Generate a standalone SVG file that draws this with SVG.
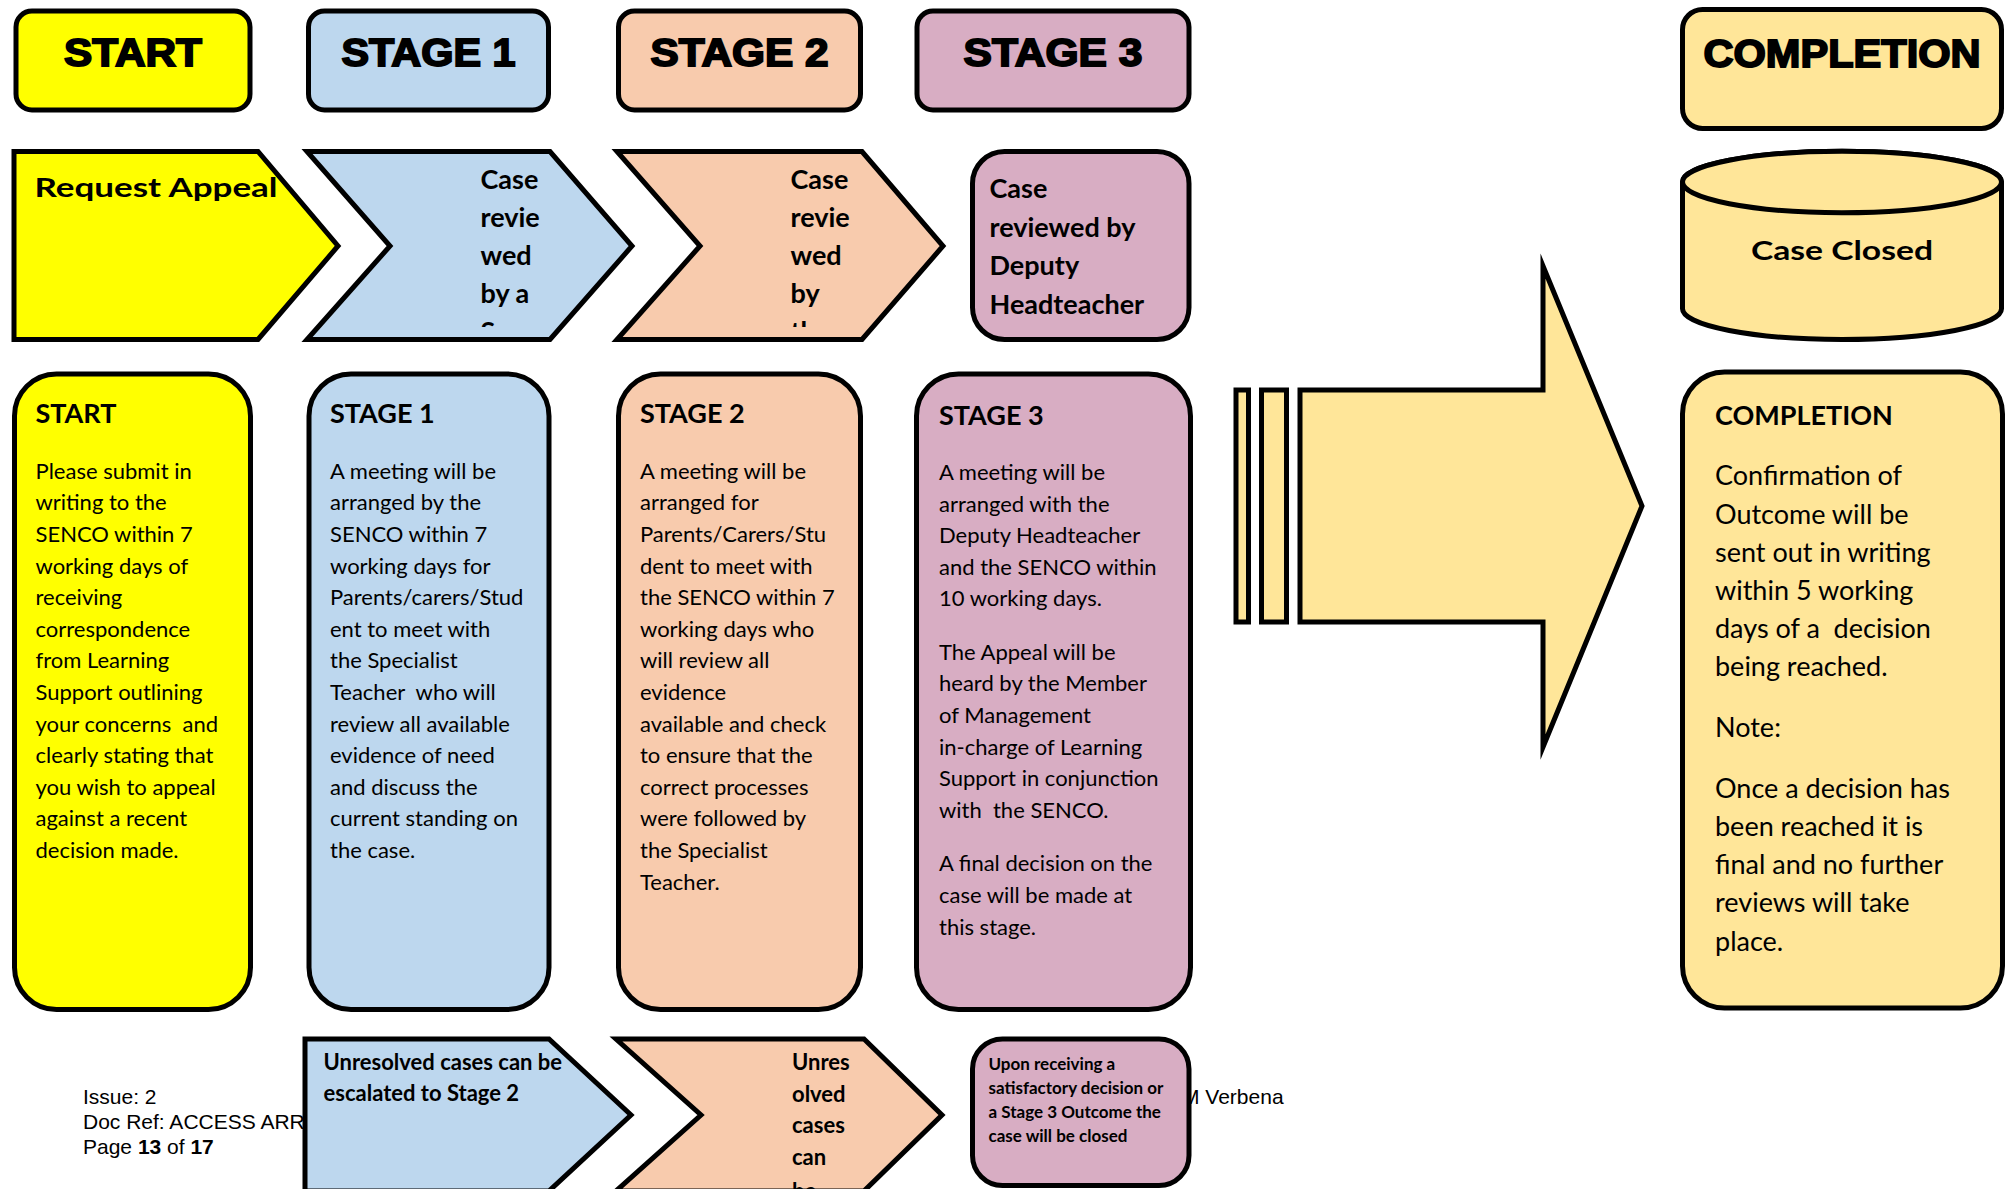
<svg xmlns="http://www.w3.org/2000/svg" width="2009" height="1189" viewBox="0 0 2009 1189">
<style>
.s{stroke:#000;stroke-width:5;stroke-linejoin:miter;stroke-miterlimit:10}
.y{fill:#FFFF00}.b{fill:#BDD7EE}.p{fill:#F8CBAD}.m{fill:#D8ADC3}.c{fill:#FFE699}
.h{font-family:"Liberation Sans",Arial,sans-serif;font-weight:bold;font-size:38px;stroke:#000;stroke-width:1.8;text-anchor:middle;fill:#000}
.t{font-family:Lato,"Liberation Sans",sans-serif;font-size:22px;fill:#000}
.tc{font-family:Lato,"Liberation Sans",sans-serif;font-size:27px;fill:#000}
.hb{font-family:Lato,"Liberation Sans",sans-serif;font-size:27px;font-weight:bold;fill:#000}
.cb{font-family:Lato,"Liberation Sans",sans-serif;font-size:27px;font-weight:bold;fill:#000}
.ub{font-family:Lato,"Liberation Sans",sans-serif;font-size:22px;font-weight:bold;fill:#000}
.sb{font-family:Lato,"Liberation Sans",sans-serif;font-size:17px;font-weight:bold;fill:#000}
.f{font-family:"Liberation Sans",Arial,sans-serif;font-size:21px;fill:#000}
</style>
<defs>
<clipPath id="clipTop"><rect x="0" y="0" width="2009" height="327"/></clipPath>
</defs>
<rect x="0" y="0" width="2009" height="1189" fill="#fff"/>

<!-- footer text (behind shapes) -->
<g id="footer">
<text class="f" x="83" y="1104">Issue: 2</text>
<text class="f" x="83" y="1129">Doc Ref: ACCESS ARR</text>
<text class="f" x="83" y="1154">Page <tspan font-weight="bold">13</tspan> of <tspan font-weight="bold">17</tspan></text>
<text class="f" x="1182" y="1104">M Verbena</text>
</g>

<!-- Row 1 headers -->
<g id="hdr-start"><rect class="s y" x="16" y="11" width="234" height="99" rx="16"/><text class="h" x="133" y="66" textLength="138" lengthAdjust="spacingAndGlyphs">START</text></g>
<g id="hdr-stage1"><rect class="s b" x="308.5" y="11" width="240" height="99" rx="16"/><text class="h" x="428.5" y="66" textLength="174" lengthAdjust="spacingAndGlyphs">STAGE 1</text></g>
<g id="hdr-stage2"><rect class="s p" x="618.5" y="11" width="242" height="99" rx="16"/><text class="h" x="739.5" y="66" textLength="178" lengthAdjust="spacingAndGlyphs">STAGE 2</text></g>
<g id="hdr-stage3"><rect class="s m" x="917" y="11" width="272" height="99" rx="16"/><text class="h" x="1053" y="66" textLength="179" lengthAdjust="spacingAndGlyphs">STAGE 3</text></g>
<g id="hdr-completion"><rect class="s c" x="1682.5" y="9.5" width="319" height="119" rx="20"/><text class="h" x="1842" y="67" textLength="277" lengthAdjust="spacingAndGlyphs">COMPLETION</text></g>

<!-- Row 2 -->
<g id="request-appeal">
<polygon class="s y" points="14,151.5 258,151.5 338,246 258,339.5 14,339.5"/>
<text class="cb" x="34.5" y="197" font-size="36" textLength="243" lengthAdjust="spacingAndGlyphs">Request Appeal</text>
</g>
<g id="review-stage1">
<polygon class="s b" points="307,151.5 550,151.5 632,246 550,339.5 307,339.5 390,246"/>
<g clip-path="url(#clipTop)">
<text class="cb" x="480.5" y="189">Case</text>
<text class="cb" x="480.5" y="227">revie</text>
<text class="cb" x="480.5" y="265">wed</text>
<text class="cb" x="480.5" y="303">by a</text>
<text class="cb" x="480.5" y="341">Spec</text>
</g>
</g>
<g id="review-stage2">
<polygon class="s p" points="617,151.5 862,151.5 943,246 862,339.5 617,339.5 700,246"/>
<g clip-path="url(#clipTop)">
<text class="cb" x="790.5" y="189">Case</text>
<text class="cb" x="790.5" y="227">revie</text>
<text class="cb" x="790.5" y="265">wed</text>
<text class="cb" x="790.5" y="303">by</text>
<text class="cb" x="790.5" y="341">the</text>
</g>
</g>
<g id="review-stage3">
<rect class="s m" x="972.5" y="151.5" width="216.5" height="188" rx="32"/>
<text class="cb" x="989.5" y="198">Case</text>
<text class="cb" x="989.5" y="237">reviewed by</text>
<text class="cb" x="989.5" y="275">Deputy</text>
<text class="cb" x="989.5" y="314">Headteacher</text>
</g>
<g id="case-closed">
<path class="s c" d="M1682.5,182 A159.5,30.7 0 0 1 2001.5,182 L2001.5,308.8 A159.5,30.7 0 0 1 1682.5,308.8 Z"/>
<ellipse class="s c" cx="1842" cy="182" rx="159.5" ry="30.7"/>
<text class="cb" x="1842" y="260" font-size="36" text-anchor="middle" textLength="182" lengthAdjust="spacingAndGlyphs">Case Closed</text>
</g>

<!-- Row 3 -->
<g id="box-start">
<rect class="s y" x="14.5" y="374" width="236" height="635.5" rx="42"/>
<text class="hb" x="35.5" y="423">START</text>
<text class="t">
<tspan x="35.5" y="478.7">Please submit in</tspan>
<tspan x="35.5" y="510.3">writing to the</tspan>
<tspan x="35.5" y="541.9">SENCO within 7</tspan>
<tspan x="35.5" y="573.5">working days of</tspan>
<tspan x="35.5" y="605.1">receiving</tspan>
<tspan x="35.5" y="636.7">correspondence</tspan>
<tspan x="35.5" y="668.3">from Learning</tspan>
<tspan x="35.5" y="699.9">Support outlining</tspan>
<tspan x="35.5" y="731.5">your concerns&#160; and</tspan>
<tspan x="35.5" y="763.1">clearly stating that</tspan>
<tspan x="35.5" y="794.7">you wish to appeal</tspan>
<tspan x="35.5" y="826.3">against a recent</tspan>
<tspan x="35.5" y="857.9">decision made.</tspan>
</text>
</g>
<g id="box-stage1">
<rect class="s b" x="309" y="374" width="240" height="635.5" rx="42"/>
<text class="hb" x="330" y="423">STAGE 1</text>
<text class="t">
<tspan x="330" y="478.7">A meeting will be</tspan>
<tspan x="330" y="510.3">arranged by the</tspan>
<tspan x="330" y="541.9">SENCO within 7</tspan>
<tspan x="330" y="573.5">working days for</tspan>
<tspan x="330" y="605.1">Parents/carers/Stud</tspan>
<tspan x="330" y="636.7">ent to meet with</tspan>
<tspan x="330" y="668.3">the Specialist</tspan>
<tspan x="330" y="699.9">Teacher&#160; who will</tspan>
<tspan x="330" y="731.5">review all available</tspan>
<tspan x="330" y="763.1">evidence of need</tspan>
<tspan x="330" y="794.7">and discuss the</tspan>
<tspan x="330" y="826.3">current standing on</tspan>
<tspan x="330" y="857.9">the case.</tspan>
</text>
</g>
<g id="box-stage2">
<rect class="s p" x="618.5" y="374" width="242" height="635.5" rx="42"/>
<text class="hb" x="640" y="423">STAGE 2</text>
<text class="t">
<tspan x="640" y="478.7">A meeting will be</tspan>
<tspan x="640" y="510.3">arranged for</tspan>
<tspan x="640" y="541.9">Parents/Carers/Stu</tspan>
<tspan x="640" y="573.5">dent to meet with</tspan>
<tspan x="640" y="605.1">the SENCO within 7</tspan>
<tspan x="640" y="636.7">working days who</tspan>
<tspan x="640" y="668.3">will review all</tspan>
<tspan x="640" y="699.9">evidence</tspan>
<tspan x="640" y="731.5">available and check</tspan>
<tspan x="640" y="763.1">to ensure that the</tspan>
<tspan x="640" y="794.7">correct processes</tspan>
<tspan x="640" y="826.3">were followed by</tspan>
<tspan x="640" y="857.9">the Specialist</tspan>
<tspan x="640" y="889.5">Teacher.</tspan>
</text>
</g>
<g id="box-stage3">
<rect class="s m" x="916.5" y="374" width="274" height="635.5" rx="42"/>
<text class="hb" x="939" y="425">STAGE 3</text>
<text class="t">
<tspan x="939" y="480">A meeting will be</tspan>
<tspan x="939" y="511.6">arranged with the</tspan>
<tspan x="939" y="543.2">Deputy Headteacher</tspan>
<tspan x="939" y="574.8">and the SENCO within</tspan>
<tspan x="939" y="606.4">10 working days.</tspan>
<tspan x="939" y="659.7">The Appeal will be</tspan>
<tspan x="939" y="691.3">heard by the Member</tspan>
<tspan x="939" y="722.9">of Management</tspan>
<tspan x="939" y="754.5">in-charge of Learning</tspan>
<tspan x="939" y="786.1">Support in conjunction</tspan>
<tspan x="939" y="817.7">with&#160; the SENCO.</tspan>
<tspan x="939" y="871.4">A final decision on the</tspan>
<tspan x="939" y="903">case will be made at</tspan>
<tspan x="939" y="934.6">this stage.</tspan>
</text>
</g>
<g id="box-completion">
<rect class="s c" x="1682.5" y="372" width="320" height="636" rx="42"/>
<text class="hb" x="1715" y="425">COMPLETION</text>
<text class="tc">
<tspan x="1715" y="485.4">Confirmation of</tspan>
<tspan x="1715" y="523.6">Outcome will be</tspan>
<tspan x="1715" y="561.8">sent out in writing</tspan>
<tspan x="1715" y="600">within 5 working</tspan>
<tspan x="1715" y="638.2">days of a&#160; decision</tspan>
<tspan x="1715" y="676.4">being reached.</tspan>
<tspan x="1715" y="736.7">Note:</tspan>
<tspan x="1715" y="797.7">Once a decision has</tspan>
<tspan x="1715" y="835.9">been reached it is</tspan>
<tspan x="1715" y="874.1">final and no further</tspan>
<tspan x="1715" y="912.3">reviews will take</tspan>
<tspan x="1715" y="950.5">place.</tspan>
</text>
</g>

<!-- Connectors -->
<g id="connectors">
<rect class="s c" x="1236" y="390" width="12.5" height="232"/>
<rect class="s c" x="1261.5" y="390" width="25" height="232"/>
<polygon class="s c" points="1300,390 1543,390 1543,266 1642,506 1543,747 1543,622 1300,622"/>
</g>

<!-- Bottom row -->
<g id="escalate-stage2">
<polygon class="s b" points="305,1039 549,1039 631,1115 549,1191 305,1191"/>
<text class="ub" x="323.5" y="1070">Unresolved cases can be</text>
<text class="ub" x="323.5" y="1101">escalated to Stage 2</text>
</g>
<g id="escalate-stage3">
<polygon class="s p" points="616,1039 864,1039 942,1115 864,1191 616,1191 701,1115"/>
<text class="ub" x="792" y="1070">Unres</text>
<text class="ub" x="792" y="1101.6">olved</text>
<text class="ub" x="792" y="1133.2">cases</text>
<text class="ub" x="792" y="1164.8">can</text>
<text class="ub" x="792" y="1199">be</text>
</g>
<g id="case-closed-note">
<rect class="s m" x="972.5" y="1039" width="216.5" height="146.5" rx="30"/>
<text class="sb">
<tspan x="988.5" y="1070">Upon receiving a</tspan>
<tspan x="988.5" y="1094">satisfactory decision or</tspan>
<tspan x="988.5" y="1118">a Stage 3 Outcome the</tspan>
<tspan x="988.5" y="1142">case will be closed</tspan>
</text>
</g>
</svg>
